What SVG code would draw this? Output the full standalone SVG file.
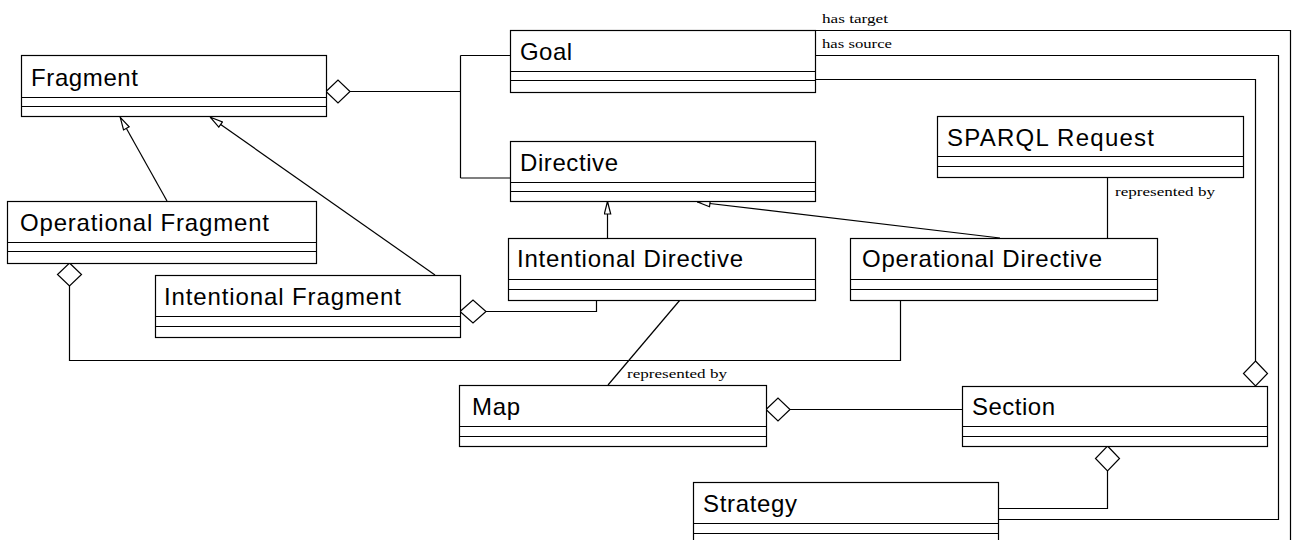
<svg xmlns="http://www.w3.org/2000/svg" width="1292" height="540" viewBox="0 0 1292 540">
<style>
.box{fill:#fff;stroke:#000;stroke-width:1.2}
.sep{stroke:#000;stroke-width:1.2}
.name{font-family:"Liberation Sans",Arial,sans-serif;font-size:24px;fill:#000}
.lbl{font-family:"Liberation Serif","Times New Roman",serif;font-size:13px;fill:#000}
.c{fill:none;stroke:#000;stroke-width:1.2}
.dia{fill:#fff;stroke:#000;stroke-width:1.2}
</style>
<defs>
<marker id="gen" markerUnits="userSpaceOnUse" viewBox="0 0 14 8" refX="14" refY="4" markerWidth="14" markerHeight="8" orient="auto">
<path d="M1,0.8 L13.5,4 L1,7.2 Z" fill="#fff" stroke="#000" stroke-width="1.2"/>
</marker>
</defs>
<rect width="1292" height="540" fill="#fff"/>

<g id="connectors">
<!-- Fragment aggregation of Goal / Directive -->
<path class="c" d="M350,91.5 H460.5 M460.5,55.5 V178 M460.5,55.5 H510 M460.5,178 H510"/>
<path class="dia" d="M326,91.5 L338,80 L350,91.5 L338,103 Z"/>
<!-- generalizations -->
<line class="c" x1="167" y1="201" x2="120" y2="117" marker-end="url(#gen)"/>
<line class="c" x1="435" y1="275" x2="210" y2="117" marker-end="url(#gen)"/>
<line class="c" x1="607.5" y1="238" x2="607.5" y2="201" marker-end="url(#gen)"/>
<line class="c" x1="1000" y1="238" x2="697" y2="202" marker-end="url(#gen)"/>
<!-- Operational Fragment aggregation -->
<path class="c" d="M69.5,286 V360.5 H900.5 V300"/>
<path class="dia" d="M69.5,263 L81.5,274.5 L69.5,286 L57.5,274.5 Z"/>
<!-- Intentional Fragment aggregation -->
<path class="c" d="M486,311.5 H596.5 V300"/>
<path class="dia" d="M460,311.5 L473,300 L486,311.5 L473,323 Z"/>
<!-- represented by (Map) -->
<line class="c" x1="680" y1="300" x2="608" y2="385"/>
<text class="lbl" x="627" y="378" textLength="100" lengthAdjust="spacingAndGlyphs">represented by</text>
<!-- represented by (SPARQL) -->
<line class="c" x1="1107.5" y1="177" x2="1107.5" y2="238"/>
<text class="lbl" x="1115" y="196" textLength="100" lengthAdjust="spacingAndGlyphs">represented by</text>
<!-- Map aggregation of Section -->
<path class="c" d="M790,409.5 H962"/>
<path class="dia" d="M766,409.5 L778,398 L790,409.5 L778,421 Z"/>
<!-- Section aggregation of Strategy -->
<path class="c" d="M1107.5,471 V508.5 H998"/>
<path class="dia" d="M1107.5,446 L1119.5,458.5 L1107.5,471 L1095.5,458.5 Z"/>
<!-- Goal has target -->
<path class="c" d="M815,30.5 H1290.5 V545"/>
<text class="lbl" x="822" y="23" textLength="66" lengthAdjust="spacingAndGlyphs">has target</text>
<!-- Goal has source -->
<path class="c" d="M815,55.5 H1278.5 V519.5 H998"/>
<text class="lbl" x="822" y="48" textLength="70" lengthAdjust="spacingAndGlyphs">has source</text>
<!-- Goal to Section aggregation -->
<path class="c" d="M815,79.5 H1255.5 V361"/>
<path class="dia" d="M1255.5,361 L1267.5,373.5 L1255.5,386 L1243.5,373.5 Z"/>
</g>

<g id="fragment">
<rect class="box" x="21.5" y="55.5" width="305" height="61"/>
<path class="sep" d="M21.5,97.5 H326.5 M21.5,106.5 H326.5"/>
<text class="name" x="31" y="86" textLength="107">Fragment</text>
</g>
<g id="operational-fragment">
<rect class="box" x="7.5" y="201.5" width="309" height="62"/>
<path class="sep" d="M7.5,242.5 H316.5 M7.5,251.5 H316.5"/>
<text class="name" x="20" y="231" textLength="249">Operational Fragment</text>
</g>
<g id="intentional-fragment">
<rect class="box" x="155.5" y="275.5" width="305" height="62"/>
<path class="sep" d="M155.5,316.5 H460.5 M155.5,326.5 H460.5"/>
<text class="name" x="164" y="305" textLength="237">Intentional Fragment</text>
</g>
<g id="goal">
<rect class="box" x="510.5" y="30.5" width="305" height="62"/>
<path class="sep" d="M510.5,71.5 H815.5 M510.5,80.5 H815.5"/>
<text class="name" x="520" y="60" textLength="52">Goal</text>
</g>
<g id="directive">
<rect class="box" x="510.5" y="141.5" width="305" height="60"/>
<path class="sep" d="M510.5,182.5 H815.5 M510.5,191.5 H815.5"/>
<text class="name" x="520" y="171" textLength="98">Directive</text>
</g>
<g id="intentional-directive">
<rect class="box" x="508.5" y="238.5" width="307" height="62"/>
<path class="sep" d="M508.5,279.5 H815.5 M508.5,289.5 H815.5"/>
<text class="name" x="517" y="267" textLength="226">Intentional Directive</text>
</g>
<g id="operational-directive">
<rect class="box" x="850.5" y="238.5" width="307" height="62"/>
<path class="sep" d="M850.5,279.5 H1157.5 M850.5,289.5 H1157.5"/>
<text class="name" x="862" y="267" textLength="240">Operational Directive</text>
</g>
<g id="sparql-request">
<rect class="box" x="937.5" y="116.5" width="306" height="61"/>
<path class="sep" d="M937.5,156.5 H1243.5 M937.5,166.5 H1243.5"/>
<text class="name" x="947" y="146" textLength="207">SPARQL Request</text>
</g>
<g id="map">
<rect class="box" x="459.5" y="385.5" width="307" height="61"/>
<path class="sep" d="M459.5,426.5 H766.5 M459.5,436.5 H766.5"/>
<text class="name" x="472" y="415" textLength="48">Map</text>
</g>
<g id="section">
<rect class="box" x="962.5" y="386.5" width="305" height="60"/>
<path class="sep" d="M962.5,426.5 H1267.5 M962.5,436.5 H1267.5"/>
<text class="name" x="972" y="415" textLength="83">Section</text>
</g>
<g id="strategy">
<rect class="box" x="693.5" y="482.5" width="305" height="62"/>
<path class="sep" d="M693.5,523.5 H998.5 M693.5,533.5 H998.5"/>
<text class="name" x="703" y="512" textLength="94">Strategy</text>
</g>
</svg>
